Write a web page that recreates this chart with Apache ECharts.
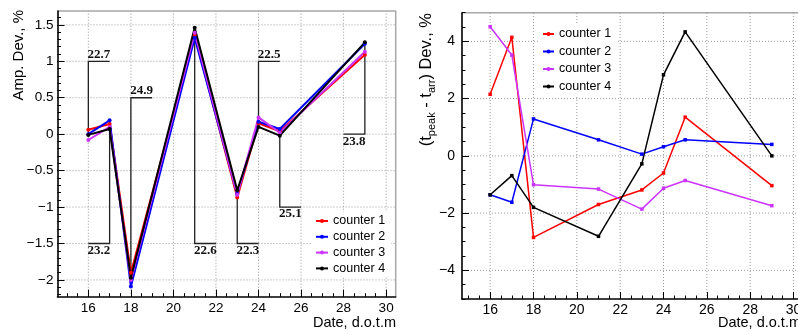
<!DOCTYPE html>
<html>
<head>
<meta charset="utf-8">
<script src="https://cdn.jsdelivr.net/npm/echarts@6/dist/echarts.min.js"></script>
<style>
  html, body { margin: 0; padding: 0; background: #fff; }
  #chart { width: 798px; height: 330px; }
</style>
</head>
<body>
<div id="chart"></div>
<script>
// Measurement dates (day of the month)
const dates = [16, 17, 18, 21, 23, 24, 25, 29];
const seriesNames = ['counter 1', 'counter 2', 'counter 3', 'counter 4'];
const seriesColors = ['#ff0000', '#0000ff', '#cc33ff', '#000000'];

// Amplitude deviation, %
const amp1 = [0.06, 0.14, -1.90, 1.36, -0.87, 0.15, 0.04, 1.09];
const amp2 = [0.00, 0.19, -2.09, 1.32, -0.82, 0.17, 0.07, 1.24];
const amp3 = [-0.08, 0.10, -2.00, 1.39, -0.83, 0.23, 0.02, 1.13];
const amp4 = [-0.01, 0.07, -1.97, 1.46, -0.77, 0.10, -0.02, 1.26];

// (t_peak - t_arr) deviation, %
const dt1 = [2.15, 4.14, -2.85, -1.70, -1.19, -0.60, 1.35, -1.04];
const dt2 = [-1.36, -1.62, 1.29, 0.56, 0.06, 0.32, 0.56, 0.40];
const dt3 = [4.51, 3.52, -1.01, -1.16, -1.86, -1.13, -0.86, -1.74];
const dt4 = [-1.36, -0.69, -1.80, -2.81, -0.28, 2.83, 4.33, 0.00];

// Temperature callouts on the amplitude plot
const tempLabels = ['22.7', '23.2', '24.9', '22.6', '22.3', '22.5', '25.1', '23.8'];
const tempLevels = [1, -1.5, 0.5, -1.5, -1.5, 1, -1, 0];
const tempEnds = [17, 16, 19, 22, 24, 25, 26, 28];

// Tick values
const xMajor = [16, 18, 20, 22, 24, 26, 28, 30];
const ampMajor = [-2, -1.5, -1, -0.5, 0, 0.5, 1, 1.5];
const dtMajor = [-4, -2, 0, 2, 4];

// Axis ranges
const ampX = [14.55, 30.45], ampY = [-2.23, 1.69];
const dtX = [14.7, 30.3], dtY = [-5, 5];

function steps(a, b, s) {
  const out = [];
  for (let v = a; v <= b + 1e-9; v += s) out.push(Math.round(v * 100) / 100);
  return out;
}
const xMinor = steps(15, 30, 0.5);
const ampMinor = steps(-2.2, 1.6, 0.1);
const dtMinor = steps(-5, 5, 0.5);

const FONT = 'Liberation Sans';
const minus = v => String(v).replace('-', '\u2212');

function mainAxis(dim, grid, range, ticks, margin, fontSize) {
  return {
    type: 'value', gridIndex: grid, min: range[0], max: range[1],
    position: dim === 'x' ? 'bottom' : 'left', z: 5,
    axisLine: { show: true, onZero: false, lineStyle: { color: '#000', width: 1.6 } },
    axisTick: { show: true, inside: true, length: 7, customValues: ticks, lineStyle: { color: '#000', width: 1 } },
    axisLabel: { show: true, customValues: ticks, margin: margin, fontSize: fontSize, fontFamily: FONT, color: '#000', formatter: minus },
    splitLine: { show: false }, minorTick: { show: false }, minorSplitLine: { show: false }
  };
}
function minorAxis(dim, grid, range, ticks) {
  return {
    type: 'value', gridIndex: grid, min: range[0], max: range[1],
    position: dim === 'x' ? 'bottom' : 'left', z: 5,
    axisLine: { show: false, onZero: false },
    axisTick: { show: true, inside: true, length: 3.5, customValues: ticks, lineStyle: { color: '#000', width: 1 } },
    axisLabel: { show: false },
    splitLine: { show: false }
  };
}

// Dotted grid lines at the major ticks, plus the top and right frame edges
function gridSeries(xi, yi, xr, yr, xs, ys) {
  const base = {
    type: 'line', xAxisIndex: xi, yAxisIndex: yi, z: 2, silent: true,
    symbol: 'none', showSymbol: false, clip: false, animation: false,
    emphasis: { disabled: true }
  };
  const dotted = { color: '#9a9a9a', width: 1, type: [1, 2] };
  const out = [];
  xs.forEach(v => out.push(Object.assign({}, base, {
    data: [[v, yr[0]], [v, yr[1]]], lineStyle: dotted })));
  ys.forEach(v => out.push(Object.assign({}, base, {
    data: [[xr[0], v], [xr[1], v]], lineStyle: dotted })));
  out.push(Object.assign({}, base, {
    data: [[xr[0], yr[1]], [xr[1], yr[1]], [xr[1], yr[0]]],
    lineStyle: { color: '#a8a8a8', width: 1.5, type: 'solid' } }));
  return out;
}

function lineSeries(name, color, values, xi, yi, width, symbol, size) {
  return {
    name: name, type: 'line', xAxisIndex: xi, yAxisIndex: yi, z: 3,
    data: dates.map((d, i) => [d, values[i]]),
    symbol: symbol, symbolSize: size,
    itemStyle: { color: color },
    lineStyle: { color: color, width: width },
    emphasis: { disabled: true }
  };
}

const ampSets = [amp1, amp2, amp3, amp4];
const dtSets = [dt1, dt2, dt3, dt4];

const series = [
  {
    type: 'custom', xAxisIndex: 0, yAxisIndex: 0, z: 2.5, clip: false, silent: true,
    data: dates.map((d, i) => [d, amp4[i], tempLevels[i], tempEnds[i]]),
    renderItem: function (params, api) {
      const i = params.dataIndex;
      const x = api.value(0), y0 = api.value(1), lv = api.value(2), x2 = api.value(3);
      const p0 = api.coord([x, y0]);
      const p1 = api.coord([x, lv]);
      const p2 = api.coord([x2, lv]);
      const above = lv > y0;
      return {
        type: 'group',
        children: [
          { type: 'polyline', shape: { points: [p0, p1, p2] },
            style: { stroke: '#222', lineWidth: 1.3, fill: 'none' } },
          { type: 'text', x: (p1[0] + p2[0]) / 2, y: p1[1] + (above ? -0.5 : 0.5),
            style: { text: tempLabels[i], align: 'center', verticalAlign: above ? 'bottom' : 'top',
                     font: 'bold 13px "Liberation Serif"', fill: '#111' } }
        ]
      };
    }
  }
].concat(
  gridSeries(0, 0, ampX, ampY, xMajor, ampMajor),
  gridSeries(2, 2, dtX, dtY, xMajor, dtMajor)
);
for (let k = 0; k < 4; k++) {
  series.push(lineSeries(seriesNames[k], seriesColors[k], ampSets[k], 0, 0, 2, 'circle', 4));
}
for (let k = 0; k < 4; k++) {
  series.push(lineSeries(seriesNames[k], seriesColors[k], dtSets[k], 2, 2, 1.5, 'rect', 3.5));
}

const legendText = { fontSize: 12.5, fontFamily: FONT, color: '#000', lineHeight: 14 };

const chart = echarts.init(document.getElementById('chart'), null, { renderer: 'canvas' });
chart.setOption({
  animation: false,
  backgroundColor: '#fff',
  grid: [
    { left: 57.5, top: 11, width: 338.2, height: 285.7, show: false, containLabel: false, outerBoundsMode: 'none' },
    { left: 462, top: 12.7, width: 338, height: 286.3, show: false, containLabel: false, outerBoundsMode: 'none' }
  ],
  xAxis: [
    mainAxis('x', 0, ampX, xMajor, 5, 13.5),
    minorAxis('x', 0, ampX, xMinor),
    mainAxis('x', 1, dtX, xMajor, 4, 14),
    minorAxis('x', 1, dtX, xMinor)
  ],
  yAxis: [
    mainAxis('y', 0, ampY, ampMajor, 4, 13.5),
    minorAxis('y', 0, ampY, ampMinor),
    mainAxis('y', 1, dtY, dtMajor, 7, 14),
    minorAxis('y', 1, dtY, dtMinor)
  ],
  legend: [
    { data: seriesNames, orient: 'vertical', left: 312, top: 212, padding: [2, 6, 2, 3],
      itemWidth: 12, itemHeight: 5, itemGap: 1.8, selectedMode: false, z: 6,
      backgroundColor: '#fff', textStyle: legendText },
    { data: seriesNames, orient: 'vertical', left: 539, top: 25, padding: [2, 6, 2, 3],
      itemWidth: 11, itemHeight: 5, itemGap: 3.5, selectedMode: false, z: 6,
      backgroundColor: '#fff', textStyle: legendText }
  ],
  graphic: [
    { type: 'text', x: 19, y: 10, rotation: Math.PI / 2, silent: true,
      style: { text: 'Amp. Dev., %', align: 'right', verticalAlign: 'middle',
               font: '15px "Liberation Sans"', fill: '#000' } },
    { type: 'text', x: 396, y: 322.5, silent: true,
      style: { text: 'Date, d.o.t.m', align: 'right', verticalAlign: 'middle',
               font: '14.5px "Liberation Sans"', fill: '#000' } },
    { type: 'text', x: 426, y: 13, rotation: Math.PI / 2, silent: true,
      style: { text: '{a|(t}{s|peak}{a| - t}{s|arr}{a|) Dev., %}', align: 'right', verticalAlign: 'middle',
               rich: {
                 a: { fontSize: 16.5, fontFamily: FONT, color: '#000', lineHeight: 22, verticalAlign: 'middle' },
                 s: { fontSize: 11, fontFamily: FONT, color: '#000', lineHeight: 22, verticalAlign: 'bottom' }
               } } },
    { type: 'text', x: 801, y: 322.5, silent: true,
      style: { text: 'Date, d.o.t.m', align: 'right', verticalAlign: 'middle',
               font: '14.5px "Liberation Sans"', fill: '#000' } }
  ],
  series: series
});
</script>
</body>
</html>
